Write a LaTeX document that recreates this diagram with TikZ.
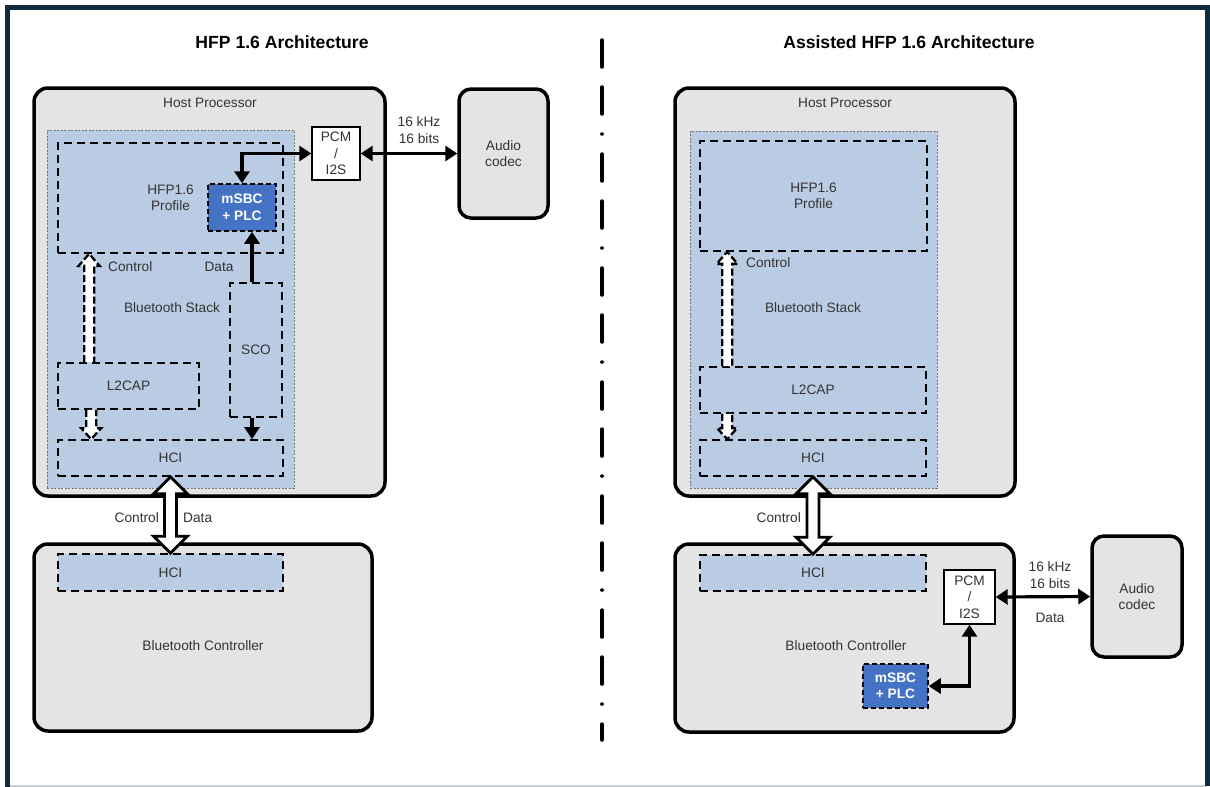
\documentclass[tikz,border=0pt]{standalone}
\usepackage{fontspec}
\setmainfont{Liberation Sans}
\usetikzlibrary{arrows.meta,calc}
\definecolor{hostgray}{HTML}{E4E4E4}
\definecolor{stackblue}{HTML}{B9CCE4}
\definecolor{msbcblue}{HTML}{4472C4}
\definecolor{navy}{HTML}{0F2B40}
\definecolor{txt}{HTML}{333333}
\definecolor{bottomline}{HTML}{C8CDD2}
\tikzset{
  every node/.style={font=\fontsize{13.7}{16.5}\selectfont},
  hostbox/.style={draw=black, line width=3.5pt, fill=hostgray, rounded corners=14pt, inner sep=0pt},
  codecbox/.style={hostbox, rounded corners=12pt, text=txt, align=center},
  stackbg/.style={draw=black!55, line width=0.8pt, dash pattern=on 2pt off 1.5pt, fill=stackblue, inner sep=0pt},
  dbox/.style={draw=black, line width=1.7pt, dash pattern=on 8pt off 5pt, inner sep=0pt, text=txt, align=center},
  dboxfill/.style={dbox, fill=stackblue},
  pcmbox/.style={draw=black, line width=1.4pt, fill=white, inner sep=0pt, text=txt, align=center},
  msbcbox/.style={fill=msbcblue, draw=black, line width=1.5pt, dash pattern=on 5pt off 3pt, inner sep=0pt, text=white, align=center, font=\bfseries\fontsize{13.7}{16.5}\selectfont},
  lbl/.style={text=txt, inner sep=0pt, align=center},
  titletext/.style={font=\bfseries\fontsize{17.6}{20}\selectfont, text=black, inner sep=0pt},
  datalink/.style={line width=3.2pt, line join=miter},
  tipboth/.style={{Triangle[length=12pt,width=15pt]}-{Triangle[length=12pt,width=15pt]}},
  tipend/.style={-{Triangle[length=12pt,width=15pt]}},
  hollowdash/.style={fill=white, draw=black, line width=2.3pt, dash pattern=on 7pt off 3pt},
  hollowsolid/.style={fill=white, draw=black, line width=2.8pt, line join=miter},
  divider/.style={line width=3.5pt, line cap=round, dash pattern=on 27pt off 20pt on 27pt off 20pt on 0.01pt off 20pt},
}
% vertical block arrow: style, base coord, tip coord, shaft hw, head hw, head len, dir (+1 points up, -1 points down)
\newcommand{\vblk}[7]{%
  \path[#1] ($(#2)+(-#4,0)$) -- ($(#3)+(-#4,#7*#6)$) -- ($(#3)+(-#5,#7*#6)$) -- (#3)
    -- ($(#3)+(#5,#7*#6)$) -- ($(#3)+(#4,#7*#6)$) -- ($(#2)+(#4,0)$);}
% double headed vertical block arrow: style, top tip, bottom tip, shaft hw, head hw, head len
\newcommand{\dblk}[6]{%
  \path[#1] (#2) -- ($(#2)+(#5,#6)$) -- ($(#2)+(#4,#6)$) -- ($(#3)+(#4,-#6)$) -- ($(#3)+(#5,-#6)$)
    -- (#3) -- ($(#3)+(-#5,-#6)$) -- ($(#3)+(-#4,-#6)$) -- ($(#2)+(-#4,#6)$) -- ($(#2)+(-#5,#6)$) -- cycle;}
\begin{document}
\begin{tikzpicture}[x=1pt,y=-1pt]
\useasboundingbox (0,0) rectangle (1210,787);
\fill[white] (0,0) rectangle (1210,787);
% frame
\draw[bottomline, line width=1.5pt] (8,786) -- (1207,786);
\draw[navy, line width=5pt] (7.5,787) -- (7.5,7.5) -- (1207.5,7.5) -- (1207.5,786);

% titles
\node[titletext] (t1) at (282,42) {HFP 1.6 Architecture};
\node[titletext] (t2) at (909,42) {Assisted HFP 1.6 Architecture};

% divider
\coordinate (divtop) at (602,40);
\coordinate (divbot) at (602,740);
\draw[divider] (divtop) -- (divbot);

%================ LEFT =================
\node[hostbox, minimum width=351pt, minimum height=408pt] (hp1) at (209.5,292) {};
\node[lbl] (hp1l) at (210,103) {Host Processor};
\node[stackbg, minimum width=247pt, minimum height=358pt] (stack1) at (170.5,309) {};
\node[dbox, minimum width=225pt, minimum height=110pt] (hfp1) at (170.5,198) {HFP1.6\\Profile};
\node[msbcbox, minimum width=68pt, minimum height=47pt] (msbc1) at (242,207.5) {mSBC\\+ PLC};
\node[pcmbox, minimum width=48pt, minimum height=53pt] (pcm1) at (336,153.5) {PCM\\/\\I2S};
\node[codecbox, minimum width=89pt, minimum height=129pt] (codec1) at (503.5,153.5) {Audio\\codec};
\node[lbl] (rate1) at (419,130) {16 kHz\\16 bits};
\node[dbox, minimum width=52pt, minimum height=134pt] (sco1) at (256,350) {SCO};
\node[dbox, minimum width=141pt, minimum height=46pt] (l2cap1) at (128.5,386) {L2CAP};
\node[dbox, minimum width=225pt, minimum height=36pt] (hci1) at (170.5,458) {HCI};
\node[lbl] (stack1l) at (172,308) {Bluetooth Stack};
\node[lbl, anchor=west] (ctl1l) at (108,267) {Control};
\node[lbl] (data1l) at (219,267) {Data};

\node[hostbox, minimum width=338pt, minimum height=187pt] (ctrl1) at (203,637.5) {};
\node[dboxfill, minimum width=225pt, minimum height=37pt] (hcic1) at (170.5,572.5) {HCI};
\node[lbl] (ctrl1l) at (203,646) {Bluetooth Controller};

% left connectors
\draw[datalink, tipboth] (pcm1.west) -| (msbc1.north);
\draw[datalink, tipboth] (pcm1.east) -- (codec1.west);
\draw[datalink, tipend] ([xshift=-4pt]sco1.north) -- ([xshift=-4pt]sco1.north |- msbc1.south);
\draw[datalink, tipend] ([xshift=-4pt]sco1.south) -- ([xshift=-4pt]sco1.south |- hci1.north);
\coordinate (cu1b) at ([xshift=32pt]l2cap1.north west);
\coordinate (cu1t) at (cu1b |- hfp1.south);
\coordinate (cd1b) at ([xshift=34pt]l2cap1.south west);
\coordinate (cd1t) at (cd1b |- hci1.north);
\vblk{hollowdash}{cu1b}{cu1t}{5}{10.5}{12}{1}
\vblk{hollowdash}{cd1b}{cd1t}{5}{10}{11}{-1}
\dblk{hollowsolid}{hci1.south}{hcic1.north}{6}{17}{17}
\node[lbl, anchor=east] (bc1l) at (159,518) {Control};
\node[lbl, anchor=west] (bd1l) at (183,518) {Data};

%================ RIGHT =================
\node[hostbox, minimum width=340pt, minimum height=408pt] (hp2) at (845,292) {};
\node[lbl] (hp2l) at (845,103) {Host Processor};
\node[stackbg, minimum width=247pt, minimum height=357pt] (stack2) at (813.5,309.5) {};
\node[dbox, minimum width=227pt, minimum height=110pt] (hfp2) at (813.5,196) {HFP1.6\\Profile};
\node[dbox, minimum width=226pt, minimum height=46pt] (l2cap2) at (813,390) {L2CAP};
\node[dbox, minimum width=226pt, minimum height=36pt] (hci2) at (813,458) {HCI};
\node[lbl] (stack2l) at (813,308) {Bluetooth Stack};
\node[lbl, anchor=west] (ctl2l) at (746,263) {Control};

\node[hostbox, minimum width=339pt, minimum height=188pt] (ctrl2) at (844.5,638) {};
\node[dboxfill, minimum width=226pt, minimum height=36pt] (hcic2) at (813,573) {HCI};
\node[lbl] (ctrl2l) at (846,646) {Bluetooth Controller};
\node[pcmbox, minimum width=51pt, minimum height=54pt] (pcm2) at (969.5,597) {PCM\\/\\I2S};
\node[msbcbox, minimum width=65pt, minimum height=44pt] (msbc2) at (895.5,686) {mSBC\\+ PLC};
\node[codecbox, minimum width=90pt, minimum height=121pt] (codec2) at (1137,596.5) {Audio\\codec};
\node[lbl] (rate2) at (1050,575) {16 kHz\\16 bits};
\node[lbl] (data2l) at (1050,618) {Data};

% right connectors
\draw[datalink, tipboth] (msbc2.east) -| (pcm2.south);
\draw[datalink, tipboth] (pcm2.east) -- (codec2.west);
\coordinate (cu2b) at ([xshift=28pt]l2cap2.north west);
\coordinate (cu2t) at (cu2b |- hfp2.south);
\coordinate (cd2b) at ([xshift=28pt]l2cap2.south west);
\coordinate (cd2t) at (cd2b |- hci2.north);
\vblk{hollowdash}{cu2b}{cu2t}{5}{10.5}{12}{1}
\vblk{hollowdash}{cd2b}{cd2t}{5}{10}{11}{-1}
\dblk{hollowsolid}{hci2.south}{hcic2.north}{6}{17}{17}
\node[lbl, anchor=east] (bc2l) at (801,518) {Control};
\end{tikzpicture}
\end{document}
